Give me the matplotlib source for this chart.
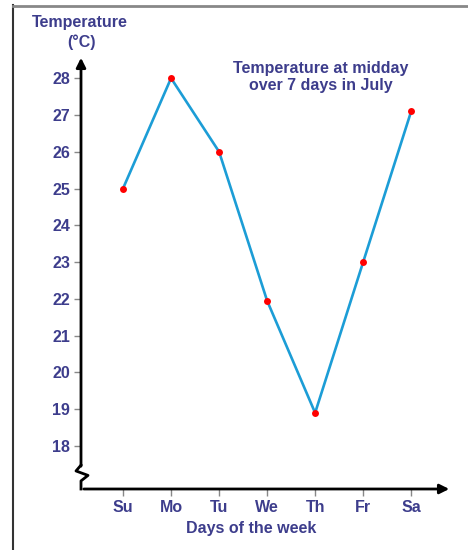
import matplotlib.pyplot as plt
from matplotlib.lines import Line2D

days = ['Su', 'Mo', 'Tu', 'We', 'Th', 'Fr', 'Sa']
temps = [25, 28, 26, 21.95, 18.9, 23, 27.1]
yticks = [18, 19, 20, 21, 22, 23, 24, 25, 26, 27, 28]

txt = '#3d3d8c'
fs = 11.5
plt.rcParams['font.family'] = ['Liberation Sans', 'DejaVu Sans']
plt.rcParams['font.weight'] = 'bold'

fig = plt.figure(figsize=(4.68, 5.5), dpi=100)
ax = fig.add_axes([81/468, 61/550, 371/468, 434/550])
x = list(range(len(days)))
ax.plot(x, temps, color='#1c9dd6', lw=1.9, zorder=2)
ax.plot(x, temps, 'o', color='#ff0000', ms=5, mec='none', zorder=3)

ax.set_xlim(-0.875, 6.85)
ax.set_ylim(16.83, 28.63)
for s in ax.spines.values():
    s.set_visible(False)

ax.set_xticks(x)
ax.set_xticklabels(days)
ax.set_yticks(yticks)
ax.tick_params(colors='#888888', length=5, width=1, labelsize=fs)
ax.tick_params(axis='x', pad=3)
ax.tick_params(axis='y', pad=3)
for lab in ax.get_xticklabels() + ax.get_yticklabels():
    lab.set_color(txt)
    lab.set_fontweight('bold')

# axes with arrows and break mark
ax.annotate('', xy=(6.85, 16.83), xytext=(-0.875, 16.83),
            arrowprops=dict(arrowstyle='-|>', color='black', lw=2, mutation_scale=14),
            annotation_clip=False)
ax.annotate('', xy=(-0.875, 28.63), xytext=(-0.875, 17.45),
            arrowprops=dict(arrowstyle='-|>', color='black', lw=2, mutation_scale=14,
                            shrinkA=0),
            annotation_clip=False)
px = 1/48
zx = [-0.875, -0.875 - 5*px, -0.875 + 7*px, -0.875, -0.875]
zy = [17.48, 17.32, 17.2, 17.05, 16.83]
ax.add_line(Line2D(zx, zy, color='black', lw=2, clip_on=False))

fig.text(251/468, 1 - 529/550, 'Days of the week', color=txt, fontsize=fs,
         fontweight='bold', ha='center', va='center')
fig.text(80/468, 1 - 23/550, 'Temperature', color=txt, fontsize=fs, fontweight='bold',
         ha='center', va='center')
fig.text(81/468, 1 - 42/550, '(°C)', color=txt, fontsize=fs, fontweight='bold',
         ha='center', va='center')
fig.text(321/468, 1 - 77/550, 'Temperature at midday\nover 7 days in July', color=txt,
         fontsize=fs, fontweight='bold', ha='center', va='center', linespacing=1.15)

# frame around the picture
fig.add_artist(Line2D([13/468, 13/468], [0, 1 - 5/550], color='#333333', lw=1.5))
fig.add_artist(Line2D([13/468, 1], [1 - 6/550, 1 - 6/550], color='#888888', lw=2))

fig.savefig('out.png', dpi=100)
